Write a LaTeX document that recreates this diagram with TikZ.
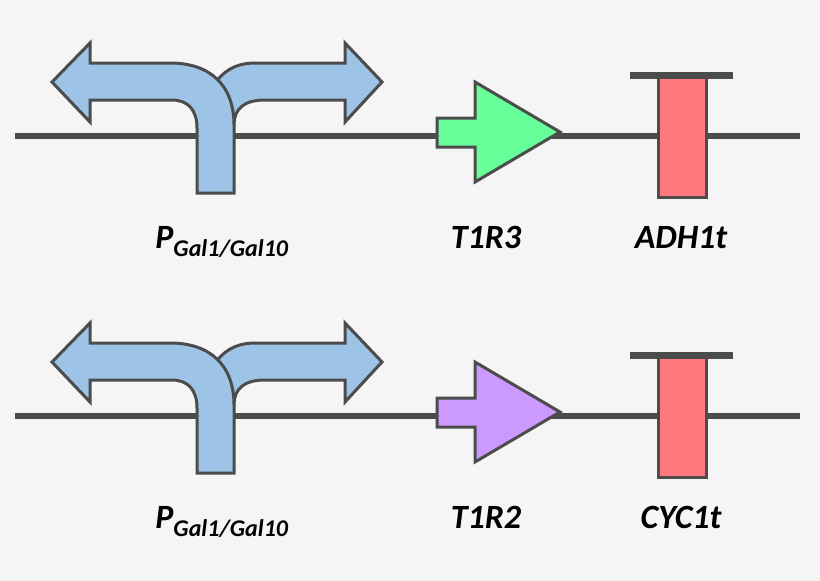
\documentclass[tikz,border=0pt]{standalone}
\usepackage{fontspec}
\setmainfont{Carlito}
\begin{document}
\begin{tikzpicture}[x=1pt,y=-1pt,
  ol/.style={draw=black!70,line width=3pt,line join=miter},
  lab/.style={font=\fontsize{34}{38}\selectfont\bfseries\itshape,anchor=base}]
\fill[black!4] (0,0) rectangle (820,581);
\useasboundingbox (0,0) rectangle (820,581);
\definecolor{pcol}{RGB}{157,195,230}
\definecolor{rcol}{RGB}{255,120,125}
\foreach \dy/\gene/\term/\n in {0/T1R3/ADH1t/a,280/T1R2/CYC1t/b}{
\begin{scope}[yshift=-\dy]
\ifnum\dy=0 \definecolor{gcol}{HTML}{66FF99}\else\definecolor{gcol}{HTML}{CC99FF}\fi
\draw[black!70,line width=6pt] (15,136) -- (800,136);
\draw[ol,fill=pcol] (234,125) .. controls (234,108) and (245,100) .. (265,100) -- (345,100) -- (345,122) -- (382,82) -- (345,43) -- (345,63) -- (255,63) .. controls (235,63) and (222,72) .. (214,85) -- (212,120) -- cycle;
\draw[ol,fill=pcol] (234,193) -- (234,125) .. controls (234,85) and (210,63) .. (170,63) -- (90,63) -- (90,43) -- (52,82) -- (90,122) -- (90,100) -- (172,100) .. controls (188,100) and (197,110) .. (197,128) -- (197,193) -- cycle;
\draw[ol,fill=gcol] (437,118) -- (475,118) -- (475,82) -- (560,132) -- (475,182) -- (475,147) -- (437,147) -- cycle;
\draw[ol,fill=rcol] (658,78) -- (658,197) -- (706,197) -- (706,78);
\draw[black!70,line width=7pt] (630,75) -- (733,75);
\node[lab] (p\n) at (222,248) {P\textsubscript{\fontsize{24}{26}\selectfont Gal1/Gal10}};
\node[lab] (g\n) at (486,248) {\gene};
\node[lab] (t\n) at (681,248) {\term};
\end{scope}}
\end{tikzpicture}
\end{document}
